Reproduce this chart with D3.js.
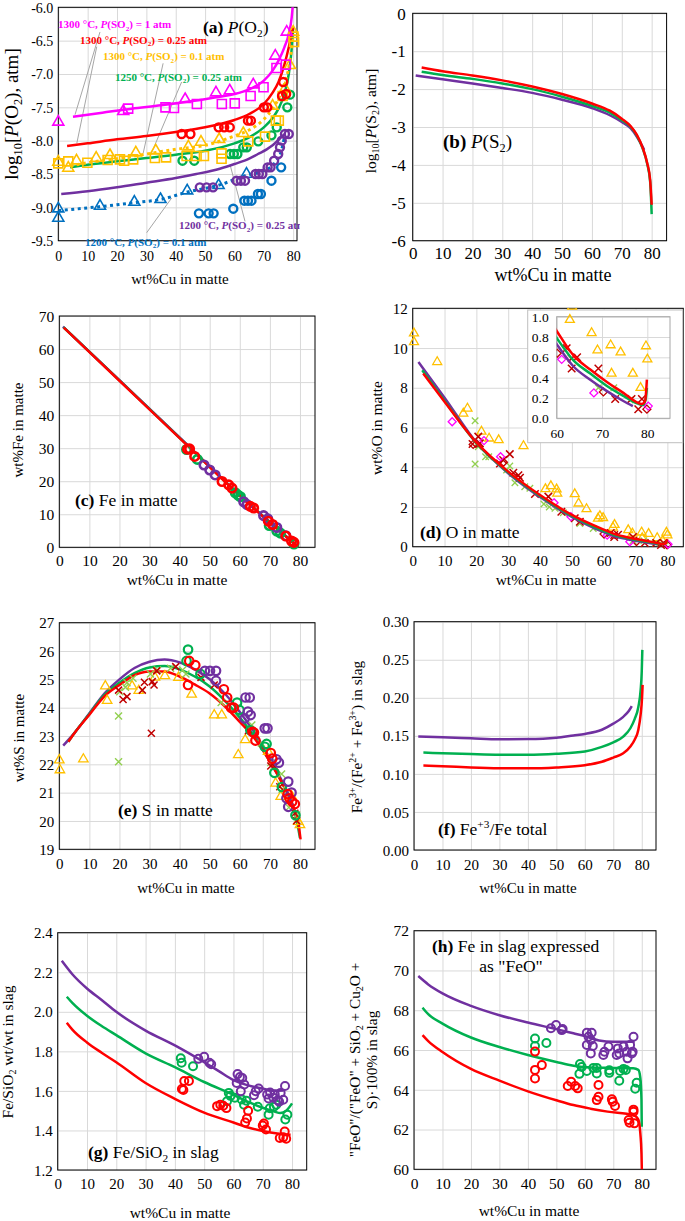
<!DOCTYPE html>
<html><head><meta charset="utf-8">
<script src="https://cdn.jsdelivr.net/npm/d3@7/dist/d3.min.js"></script>
<style>
html,body{margin:0;padding:0;background:#fff}
svg{display:block}
svg text{font-family:"Liberation Serif","Times New Roman",Times,serif;fill:#000;white-space:pre}
</style></head><body>
<svg id="chart" width="685" height="1221"></svg>
<script>
// ---------------- colours ----------------
const C={mag:'#ff00ff',red:'#ff0000',ora:'#ffc000',grn:'#00b050',pur:'#7030a0',blu:'#0070c0',dred:'#c00000',lgrn:'#92d050'};

// ---------------- tick labels ----------------
const xTicks=[0,10,20,30,40,50,60,70,80];
const aYTicks=[-9.5,-9.0,-8.5,-8.0,-7.5,-7.0,-6.5,-6.0];
const bYTicks=[-6,-5,-4,-3,-2,-1,0];
const cYTicks=[0,10,20,30,40,50,60,70];
const dYTicks=[0,2,4,6,8,10,12];
const dInsetXTicks=[60,70,80];
const dInsetYTicks=[0,0.2,0.4,0.6,0.8,1.0];
const eYTicks=[19,20,21,22,23,24,25,26,27];
const fYTicks=[0,0.05,0.10,0.15,0.20,0.25,0.30];
const gYTicks=[1.2,1.4,1.6,1.8,2.0,2.2,2.4];
const hYTicks=[60,62,64,66,68,70,72];

// ---------------- (a) P(O2) ----------------
const aLineMag=[[5,-7.64],[15,-7.58],[25,-7.52],[35,-7.47],[45,-7.41],[55,-7.34],[60,-7.3],[65,-7.23],[70,-7.1],[73,-6.95],[75,-6.8],[77,-6.6],[78.5,-6.4],[79.5,-6.15],[80,-5.9]];
const aLineRed=[[3,-8.08],[10,-8.04],[20,-7.98],[30,-7.93],[40,-7.87],[50,-7.8],[60,-7.69],[65,-7.6],[70,-7.45],[73,-7.28],[75,-7.12],[77,-6.86],[78.5,-6.6],[79.5,-6.38],[80,-6.3]];
const aLineOra=[[4,-8.38],[10,-8.33],[20,-8.27],[30,-8.2],[40,-8.13],[50,-8.07],[60,-7.93],[65,-7.84],[70,-7.68],[73,-7.52],[75,-7.37],[77,-7.15],[78.5,-6.9],[79.5,-6.6],[80,-6.4]];
const aLineGrn=[[4,-8.4],[10,-8.36],[20,-8.31],[30,-8.26],[40,-8.21],[50,-8.15],[60,-8.04],[65,-7.95],[70,-7.8],[73,-7.66],[75,-7.52],[77,-7.3],[78.5,-7.0],[79.5,-6.62],[80,-6.3]];
const aLinePur=[[1,-8.8],[10,-8.76],[20,-8.7],[30,-8.63],[40,-8.56],[47,-8.5],[55,-8.42],[60,-8.35],[65,-8.27],[68,-8.2],[71,-8.13],[73,-8.07],[75,-7.99],[77,-7.9]];
const aLineBlu=[[0,-9.05],[14,-8.99],[26,-8.93],[35,-8.88],[44,-8.77],[54.5,-8.67],[64,-8.52],[70,-8.45],[74,-8.32],[76,-8.15],[77,-7.95]];
const aTriMag=[[0,-7.72],[22.1,-7.56],[43.2,-7.38],[53.7,-7.28],[58.4,-7.25],[66.4,-7.16],[73.9,-6.73],[77.8,-6.37]];
const aSqMag=[[23.8,-7.52],[36.5,-7.5],[39.4,-7.51],[47.2,-7.45],[55.7,-7.45],[60.1,-7.44],[65.5,-7.33],[69.9,-7.2],[74.3,-6.91],[77.5,-6.86]];
const aCircRed=[[42,-7.9],[45,-7.9],[54.6,-7.8],[56.5,-7.8],[58.4,-7.8],[64.6,-7.7],[65.6,-7.7],[70,-7.5],[71.2,-7.5],[76.6,-7.12],[76.2,-7.33],[77.6,-7.3]];
const aTriOra=[[0,-8.32],[3.4,-8.41],[6.2,-8.3],[12.9,-8.26],[17.6,-8.22],[26.4,-8.18],[33.2,-8.15],[44.3,-8.09],[48.6,-8.02],[54.8,-7.98],[63,-7.89],[73,-7.48],[77.2,-7.22],[78.9,-6.87],[80,-6.37]];
const aSqOra=[[0,-8.34],[3.4,-8.31],[9.9,-8.33],[16.8,-8.29],[21,-8.28],[22.4,-8.3],[25.5,-8.28],[32.9,-8.26],[36.7,-8.25],[43.7,-8.23],[47.1,-8.23],[49.6,-8.23],[55.6,-8.19],[55.6,-8.27],[64.7,-8.01],[70.4,-7.94],[74.1,-7.7],[75.1,-7.7],[76.4,-7.33],[80.1,-6.44],[80.3,-6.52]];
const aCircGrn=[[42.3,-8.3],[46.3,-8.3],[58.5,-8.2],[59.8,-8.2],[61,-8.2],[63,-8.1],[64.2,-8.1],[68.1,-8.01],[72.6,-7.92],[74.4,-7.8],[78,-7.5],[78.9,-7.31]];
const aCircPur=[[48.2,-8.7],[50.5,-8.7],[52.7,-8.7],[60.7,-8.6],[62.2,-8.6],[63.6,-8.6],[67.2,-8.5],[68.3,-8.5],[69.5,-8.5],[71.3,-8.4],[72.3,-8.4],[73.5,-8.3],[74.9,-8.2],[75.5,-8.1],[76.1,-8.0],[77.2,-7.9],[78.5,-7.9]];
const aTriBlu=[[0,-9.02],[0,-9.16],[14.2,-8.98],[25.9,-8.92],[34.8,-8.88],[43.9,-8.75],[54.6,-8.67],[64.1,-8.5]];
const aCircBlu=[[47.9,-9.09],[51.2,-9.09],[52.9,-9.09],[59.6,-9.02],[63.4,-8.9],[64.6,-8.9],[65.8,-8.9],[68,-8.8],[69,-8.8],[72.6,-8.6],[75.9,-8.4]];
const aNoteTemp=['1300 °C','1300 °C','1300 °C','1250 °C','1200 °C','1200 °C'];
const aNoteSO2=['1','0.25','0.1','0.25','0.25','0.1'];
const aNoteAt=[[-0.1,-6.315],[7.4,-6.546],[15.2,-6.795],[19.3,-7.1],[41.1,-9.328],[9.1,-9.574]];
const aLeaders=[[[14.2,-6.37],[5.7,-7.61]],[[13.1,-6.59],[6.3,-8.04]],[[35.7,-6.84],[28.9,-8.19]],[[42,-7.12],[31.2,-8.24]],[[63.6,-9.21],[58.5,-8.36]],[[30.1,-9.38],[38.6,-8.86]]];

// ---------------- (b) P(S2) ----------------
const bLineRed=[[3,-1.43],[10,-1.53],[20,-1.64],[30,-1.77],[40,-1.93],[50,-2.13],[60,-2.38],[66,-2.57],[70,-2.78],[73,-2.98],[75,-3.2],[77,-3.55],[78.5,-3.95],[79.5,-4.4],[80,-5.05]];
const bLineGrn=[[3,-1.54],[10,-1.63],[20,-1.73],[30,-1.85],[40,-2.0],[50,-2.2],[60,-2.44],[66,-2.62],[70,-2.82],[73,-3.0],[75,-3.22],[77,-3.57],[78.5,-3.97],[79.5,-4.45],[80,-5.3]];
const bLinePur=[[1,-1.64],[10,-1.74],[20,-1.85],[30,-1.97],[40,-2.1],[50,-2.28],[60,-2.5],[66,-2.69],[70,-2.87],[73,-3.04],[75,-3.25],[77.5,-3.6]];

// ---------------- (c) Fe in matte ----------------
const cLinePur=[[1.2,66.8],[20,50.6],[42,31.5],[60,15.8],[79.5,0.1]];
const cLineGrn=[[1.4,66.6],[20,50.5],[42,31.4],[60,15.7],[79.5,0.1]];
const cLineRed=[[1.5,66.5],[20,50.4],[42,31.3],[60,15.6],[79.5,0]];
const cCircGrn=[[42.3,29.6],[45.9,26.6],[58.5,16.5],[59.4,15.8],[60.2,15.3],[69.8,6.6],[72.3,4.9],[73.5,4.3],[78,1.0]];
const cCircPur=[[48.1,24.9],[50,23.4],[51.8,21.9],[61.3,13.8],[62.4,12.9],[67.9,9.6],[69.3,8.6],[72.3,6.0],[75.3,3.5]];
const cCircRed=[[42.6,29.7],[43.3,29.8],[45,27.5],[54.1,19.9],[56.3,18.9],[57.4,17.9],[63.5,12.4],[64.6,11.9],[69.5,7.9],[70.9,6.9],[75.3,3.4],[77.2,1.9],[78,1.5]];

// ---------------- (d) O in matte ----------------
const dLineRed=[[3.3,8.72],[10,7.3],[20,5.25],[30,3.78],[40,2.6],[50,1.6],[60,0.86],[63.7,0.62],[67.4,0.48],[71,0.36],[74.7,0.25],[77.6,0.16],[78.8,0.14],[79.5,0.17],[79.9,0.38]];
const dLineGrn=[[3,8.88],[10,7.35],[20,5.22],[30,3.74],[40,2.55],[50,1.55],[60,0.79],[63.7,0.57],[67.4,0.44],[71,0.32],[74.7,0.22],[77.6,0.15],[79,0.13],[79.6,0.18],[79.9,0.3]];
const dLinePur=[[1.8,9.3],[10,7.5],[20,5.25],[30,3.7],[40,2.5],[50,1.5],[60,0.73],[63.7,0.51],[67.4,0.38],[71,0.27],[74.7,0.17],[76.8,0.12]];
const dTriOra=[[0.4,10.74],[0.4,10.3],[7.7,9.3],[15.9,6.7],[17.2,6.96],[21.6,5.8],[24,5.45],[27,5.37],[34.8,5.07],[41.7,2.9],[43.4,3.05],[45.2,2.89],[45.4,2.68],[50.9,2.65],[52.1,2.18],[54.6,1.9],[58.2,1.42],[58.8,1.54],[59.8,1.45],[62.9,0.97],[63.4,1.1],[67.7,0.84],[69,0.67],[71.9,0.72],[72.1,0.44],[74.1,0.65],[76.8,0.44],[78.5,0.3],[79.7,0.71],[80,0.58]];
const dXLgrn=[[19.6,6.34],[19.6,4.16],[20.6,5.03],[22.9,4.53],[23.9,4.53],[29.5,3.86],[30.5,4.06],[32.1,3.22],[35.2,3.02],[36.8,2.94],[41.2,2.15],[42.9,2.0],[44.7,1.93],[47.3,1.71],[52.5,1.17],[56.7,0.92],[69.2,0.3],[72.6,0.3],[76.2,0.18]];
const dXDred=[[18.8,5.17],[20.6,5.54],[21.1,5.2],[27.4,4.19],[28.4,4.36],[30.5,4.66],[31.6,3.72],[33.2,3.6],[33.7,3.47],[38.4,2.65],[42.6,2.52],[46.7,1.76],[50.9,1.43],[52.5,1.26],[62.2,0.69],[63.3,0.59],[63.3,0.49],[64.5,0.6],[69.2,0.49],[72.9,0.19],[76.5,0.19],[78.8,0.19],[78,0.09]];
const dDiaDred=[[19,5.15],[28.5,4.25],[60.1,0.64],[70.3,0.26],[79.9,0.09]];
const dDiaMag=[[12.4,6.29],[22.4,5.34],[27.6,4.53],[44.4,2.21],[49.7,1.51],[61.1,0.58],[68.2,0.25],[80.2,0.12]];

// ---------------- (e) S in matte ----------------
const eLinePur=[[1.3,22.66],[5,23.1],[10,23.8],[15,24.5],[20,25.0],[25,25.4],[30,25.62],[35,25.7],[40,25.6],[45,25.35],[50,25.0],[55,24.5],[60,23.85],[65,23.1],[70,22.2],[75,21.2],[77.5,20.6]];
const eLineGrn=[[3,22.8],[5,23.1],[10,23.78],[15,24.45],[20,24.88],[25,25.22],[30,25.42],[35,25.47],[40,25.35],[45,25.1],[50,24.75],[55,24.25],[60,23.65],[65,22.95],[70,22.1],[75,21.15],[78,20.4],[79.5,19.7],[80,19.4]];
const eLineRed=[[3,22.8],[5,23.1],[10,23.75],[15,24.4],[20,24.8],[25,25.15],[30,25.28],[35,25.28],[40,25.1],[45,24.82],[50,24.5],[55,24.05],[60,23.5],[65,22.9],[70,22.1],[75,21.15],[78,20.45],[79.5,19.9],[80.2,19.35]];
const eTriOra=[[0,22.15],[0.2,21.8],[8,22.18],[15.3,24.76],[15.9,24.25],[24.2,24.76],[26.4,24.6],[31.8,25.07],[35.1,25.12],[39.6,25.06],[44,24.47],[51.5,23.74],[54,23.74],[59.5,22.33],[61.8,22.86],[69.4,22.45],[71.9,21.33],[73.6,20.86],[77.2,20.88],[79.4,19.98],[80,19.86]];
const eXLgrn=[[19.7,23.71],[19.7,22.09],[20.1,24.56],[22,24.72],[22.5,24.88],[24.5,25.04],[30.3,25.19],[32.6,25.33],[37,25.39],[41,25.33],[42.1,25.19],[53.8,24.18],[64,23.39],[67.2,22.74],[70.3,22.06],[73.9,21.66],[74.1,21.12],[76.3,20.48],[78.9,20.21]];
const eXDred=[[19.7,24.62],[21.2,24.29],[22.5,24.39],[27.6,24.62],[28.3,24.9],[30.9,24.92],[31.5,24.8],[30.6,23.1],[32.4,25.3],[38.7,25.45],[47.1,25.07],[51.5,24.8],[62.9,23.19],[70.3,21.94],[71.6,21.92],[73.3,21.21],[78.3,20.27],[78.9,20.01]];
const eCircGrn=[[42.8,26.05],[42.3,25.65],[46.9,25.19],[59.1,24.18],[59.9,23.92],[63.5,23.2],[68.3,22.62],[68.9,22.72],[71.5,21.7],[74,21.2],[78.5,20.2]];
const eCircPur=[[48.4,25.3],[50.1,25.3],[52.1,25.3],[52.1,24.95],[61.9,24.36],[63.3,24.36],[62.7,23.86],[63.6,23.74],[61.6,23.62],[68.3,23.27],[69.2,23.27],[72.2,22.18],[73,22.06],[76.1,21.39],[77.2,21.0],[75.5,20.8],[76.1,20.5]];
const eCircRed=[[42.8,24.8],[43.2,25.65],[45.2,25.5],[54.7,24.65],[55.8,24.36],[57.1,24.0],[58,24.0],[64.2,23.15],[64.7,23.12],[65.2,22.84],[70.3,22.4],[70.8,22.2],[75.9,20.95],[77.4,20.68],[78.3,20.6],[76.5,20.8]];

// ---------------- (f) Fe3+/Fe total ----------------
const fLinePur=[[1.5,0.149],[10,0.148],[20,0.1468],[30,0.1456],[40,0.1458],[50,0.1475],[56,0.1505],[60,0.1525],[66,0.158],[70,0.166],[73.5,0.175],[75.5,0.183],[76.5,0.189]];
const fLineGrn=[[3.3,0.128],[10,0.1272],[20,0.126],[30,0.1252],[40,0.1252],[50,0.1265],[60,0.1295],[66,0.1355],[70,0.1415],[73.5,0.149],[76,0.16],[77.5,0.172],[78.8,0.188],[79.6,0.21],[80,0.235],[80.2,0.263]];
const fLineRed=[[3.3,0.111],[10,0.1102],[20,0.1085],[30,0.1075],[40,0.1073],[50,0.1085],[60,0.1115],[66,0.116],[70,0.1215],[73.5,0.127],[76,0.136],[77.5,0.145],[78.8,0.158],[79.6,0.178],[80.1,0.2],[80.3,0.217]];

// ---------------- (g) Fe/SiO2 in slag ----------------
const gLinePur=[[1.4,2.258],[5,2.19],[10,2.118],[15,2.06],[20,2.0],[30,1.905],[40,1.83],[50,1.745],[55,1.7],[60,1.655],[65,1.628],[70,1.612],[74,1.6],[77,1.602]];
const gLineGrn=[[3.1,2.076],[5,2.045],[10,1.98],[15,1.928],[20,1.882],[30,1.79],[40,1.72],[50,1.645],[60,1.58],[65,1.545],[70,1.515],[74,1.495],[76,1.488],[78,1.5],[80,1.537]];
const gLineRed=[[3.1,1.945],[5,1.91],[10,1.845],[15,1.793],[20,1.745],[30,1.64],[40,1.56],[50,1.49],[60,1.44],[65,1.415],[70,1.397],[75,1.384],[79.5,1.378]];
const gCircGrn=[[42,1.765],[42.3,1.742],[46.2,1.725],[57.8,1.548],[58.4,1.59],[59,1.575],[60.5,1.565],[62.8,1.557],[63.6,1.53],[64.4,1.55],[68.3,1.52],[72,1.48],[72.4,1.512],[73.8,1.52],[74.6,1.53],[77.7,1.455],[78.4,1.48]];
const gCircRed=[[42.4,1.61],[42.9,1.605],[43.2,1.65],[44.8,1.65],[54.4,1.523],[55.5,1.53],[56.5,1.525],[57.6,1.513],[64,1.44],[64.6,1.46],[65,1.5],[70,1.425],[70.4,1.435],[71.1,1.405],[75.8,1.362],[77,1.365],[77.5,1.395],[78,1.358]];
const gCircPur=[[48,1.762],[50,1.773],[51.8,1.742],[52.4,1.735],[61.4,1.685],[62.2,1.67],[61.1,1.64],[62.5,1.598],[63,1.665],[63.7,1.632],[67,1.578],[67.6,1.598],[68.6,1.612],[71.5,1.582],[72,1.562],[72.5,1.592],[73.6,1.565],[74.1,1.583],[75.1,1.553],[75.6,1.545],[76.1,1.59],[77,1.555],[77.6,1.625]];

// ---------------- (h) "FeO" in slag ----------------
const hLinePur=[[1.5,69.72],[5,69.3],[10,68.85],[20,68.22],[30,67.75],[40,67.38],[50,67.05],[56,66.84],[60,66.7],[65,66.48],[70,66.42],[77.5,66.42]];
const hLineGrn=[[3,68.13],[5,67.8],[10,67.33],[20,66.63],[30,66.15],[40,65.75],[50,65.4],[56,65.21],[62,65.12],[70,65.1],[77,65.08],[78.8,65.0],[79.5,64.6],[79.9,63.5],[80,62.14]];
const hLineRed=[[3,66.75],[5,66.45],[10,65.9],[20,65.05],[30,64.46],[40,63.92],[50,63.47],[56,63.23],[62,63.05],[68,62.9],[77,62.73],[78.8,62.5],[79.5,61.8],[79.9,60.8],[80.1,59.5]];
const hCircGrn=[[42.5,66.58],[42.5,66.2],[46.5,66.35],[58.3,65.3],[58.9,65.15],[58.1,64.8],[60.7,64.95],[63,65.1],[64.2,65.1],[64.2,64.82],[68.6,64.85],[68.6,64.98],[72.1,64.45],[72.4,64.95],[73.6,65.05],[74.4,65.0],[77.7,64.05],[78.2,64.35]];
const hCircRed=[[42.5,65.92],[42.5,65.0],[42.5,64.57],[44.9,65.24],[54,64.19],[55.2,64.4],[56.6,64.19],[57.5,64.07],[64.2,63.48],[64.8,63.65],[64.8,64.24],[69.5,63.52],[69.8,63.4],[70.6,63.18],[75.4,62.48],[75.7,62.34],[77.1,62.9],[77.1,63.0],[77.4,62.31]];
const hCircPur=[[48.1,67.09],[49.9,67.26],[51.9,67.0],[52.2,67.05],[60.7,66.87],[61.3,66.67],[62.1,66.5],[62.4,66.87],[62.8,66.2],[60.7,66.25],[62.1,65.83],[66.5,65.75],[66.9,65.91],[68.3,66.17],[71.2,65.75],[71.6,66.08],[72.1,65.83],[73.6,66.17],[74.7,65.91],[75,65.58],[75.9,66.25],[76.5,65.83],[76.8,65.91],[77.1,66.67]];

// =====================================================================
const FONT='"Liberation Serif","Times New Roman",Times,serif';
const svg=d3.select('#chart');
const defs=svg.append('defs');
let clipN=0;
function clipRect(x,y,w,h){const id='cl'+(clipN++);defs.append('clipPath').attr('id',id).append('rect').attr('x',x).attr('y',y).attr('width',w).attr('height',h);return `url(#${id})`;}

function rich(t,parts,fs){
  let shift=0;
  parts.forEach(p=>{
    const s=typeof p==='string'?p:p[0], f=typeof p==='string'?'':p[1];
    const sp=t.append('tspan').text(s);
    let target=0;
    if(f.includes('_')) target=fs*0.22;
    if(f.includes('^')) target=-fs*0.38;
    if(target!==shift){sp.attr('dy',target-shift);shift=target;}
    if(f.includes('_')||f.includes('^')) sp.style('font-size',(fs*0.65)+'px');
    if(f.includes('B')) sp.style('font-weight','bold');
    if(f.includes('I')) sp.style('font-style','italic');
  });
}
function label(x,y,parts,fs,opt={}){
  const t=(opt.parent||svg).append('text').attr('x',x).attr('y',y).style('font-size',fs+'px').attr('text-anchor',opt.anchor||'start');
  if(opt.rotate) t.attr('transform',`rotate(-90,${x},${y})`);
  if(opt.color) t.style('fill',opt.color);
  if(opt.bold) t.style('font-weight','bold');
  if(opt.clip) t.attr('clip-path',opt.clip);
  rich(t,parts,fs);
  return t;
}

function makePanel(c){
  const x=d3.scaleLinear().domain(c.xd).range([c.l,c.r]);
  const y=d3.scaleLinear().domain(c.yd).range([c.b,c.t]);
  const g=svg.append('g');
  const gx=g.append('g').attr('transform',`translate(0,${c.b})`)
    .call(d3.axisBottom(x).tickValues(c.xt).tickSize(-(c.b-c.t)).tickFormat(c.xf||(v=>String(v))));
  gx.attr('font-family',null).attr('font-size',null);
  gx.select('.domain').remove();
  gx.selectAll('.tick line').attr('stroke',c.grid||'#d9d9d9').attr('stroke-width',1);
  gx.selectAll('.tick text').attr('y',c.xoff||19).attr('dy',0).style('font-size',c.fs+'px').style('fill','#000');
  const gy=g.append('g').attr('transform',`translate(${c.l},0)`)
    .call(d3.axisLeft(y).tickValues(c.yt).tickSize(-(c.r-c.l)).tickFormat(c.yf||(v=>String(v))));
  gy.attr('font-family',null).attr('font-size',null);
  gy.select('.domain').remove();
  gy.selectAll('.tick line').attr('stroke',c.grid||'#d9d9d9').attr('stroke-width',1);
  gy.selectAll('.tick text').attr('x',-(c.ypad||5)).attr('dy','0.34em').style('font-size',c.fs+'px').style('fill','#000');
  g.append('rect').attr('x',c.l).attr('y',c.t).attr('width',c.r-c.l).attr('height',c.b-c.t)
    .attr('fill','none').attr('stroke',c.border||'#000').attr('stroke-width',1);
  return {g,x,y,clip:clipRect(c.l,c.t,c.r-c.l,c.b-c.t)};
}

function line(p,data,color,opt={}){
  p.g.append('path').datum(data).attr('clip-path',opt.clip||p.clip)
    .attr('fill','none').attr('stroke',color).attr('stroke-width',opt.w||2.5)
    .attr('stroke-linejoin','round').attr('stroke-linecap',opt.cap||'butt')
    .attr('stroke-dasharray',opt.dash||null)
    .attr('d',d3.line().x(d=>p.x(d[0])).y(d=>p.y(d[1])).curve(d3.curveMonotoneX));
}
function shapePath(shape,s){
  const h=s/2;
  if(shape==='circle') return `M${h},0A${h},${h} 0 1,1 ${-h},0A${h},${h} 0 1,1 ${h},0Z`;
  if(shape==='square') return `M${-h},${-h}H${h}V${h}H${-h}Z`;
  if(shape==='tri'){const ht=s*0.866;return `M0,${-ht*2/3}L${h},${ht/3}L${-h},${ht/3}Z`;}
  if(shape==='x') return `M${-h},${-h}L${h},${h}M${-h},${h}L${h},${-h}`;
  if(shape==='dia') return `M0,${-h}L${h},0L0,${h}L${-h},0Z`;
}
function marks(p,data,shape,color,s,sw,opt={}){
  const gg=p.g.append('g');
  if(opt.clip) gg.attr('clip-path',opt.clip);
  gg.selectAll('path').data(data).join('path')
    .attr('transform',d=>`translate(${p.x(d[0])},${p.y(d[1])})`)
    .attr('d',shapePath(shape,s)).attr('fill','none').attr('stroke',color).attr('stroke-width',sw);
}
const fmt1=v=>v.toFixed(1), fmt2=v=>v.toFixed(2);

// ---------------- panel (a) ----------------
const pa=makePanel({l:58.3,r:297,t:7.3,b:240.7,xd:[0,81.3],yd:[-9.5,-6],xt:xTicks,yt:aYTicks,yf:fmt1,fs:14,xoff:20});
const aClip=clipRect(0,0,300,300);
aLeaders.forEach(L=>{
  pa.g.append('line').attr('x1',pa.x(L[0][0])).attr('y1',pa.y(L[0][1])).attr('x2',pa.x(L[1][0])).attr('y2',pa.y(L[1][1]))
    .attr('stroke','#a6a6a6').attr('stroke-width',1);
});
line(pa,aLinePur,C.pur);
line(pa,aLineGrn,C.grn);
line(pa,aLineOra,C.ora,{w:3,dash:'3,3.5'});
line(pa,aLineRed,C.red);
line(pa,aLineMag,C.mag);
line(pa,aLineBlu,C.blu,{w:3,dash:'3,3.5'});
marks(pa,aCircBlu,'circle',C.blu,8,2.4);
marks(pa,aTriBlu,'tri',C.blu,11,1.6);
marks(pa,aCircPur,'circle',C.pur,8,2.4);
marks(pa,aCircGrn,'circle',C.grn,8,2.4);
marks(pa,aSqOra,'square',C.ora,9,1.6);
marks(pa,aTriOra,'tri',C.ora,11,1.6);
marks(pa,aCircRed,'circle',C.red,8,2.4);
marks(pa,aSqMag,'square',C.mag,9,1.6);
marks(pa,aTriMag,'tri',C.mag,11,1.6);
const aNoteCol=[C.mag,C.red,C.ora,C.grn,C.pur,C.blu];
aNoteAt.forEach((at,i)=>{
  label(pa.x(at[0]),pa.y(at[1]),[aNoteTemp[i]+', ',['P','I'],'(SO',['2','_'],') = '+aNoteSO2[i]+' atm'],11,{color:aNoteCol[i],bold:true,clip:aClip});
});
label(203,33,[['(a)','B'],' ',['P','I'],'(O',['2','_'],')'],17.5);
label(18,114,['log',['10','_'],'[',['P','I'],'(O',['2','_'],'), atm]'],19,{rotate:true,anchor:'middle'});
label(180,284,['wt%Cu in matte'],15,{anchor:'middle'});

// ---------------- panel (b) ----------------
const pb=makePanel({l:412.7,r:666.6,t:13.3,b:240.7,xd:[0,85],yd:[-6,0],xt:xTicks,yt:bYTicks,fs:17,xoff:18,ypad:7});
line(pb,bLinePur,C.pur);
line(pb,bLineGrn,C.grn);
line(pb,bLineRed,C.red);
label(443,148,[['(b)','B'],' ',['P','I'],'(S',['2','_'],')'],19);
label(376,121,['log',['10','_'],'[',['P','I'],'(S',['2','_'],'), atm]'],15.5,{rotate:true,anchor:'middle'});
label(553,281,['wt%Cu in matte'],18,{anchor:'middle'});

// ---------------- panel (c) ----------------
const pc=makePanel({l:59.3,r:315,t:316,b:547.3,xd:[0,85],yd:[0,70],xt:xTicks,yt:cYTicks,fs:15.5});
line(pc,cLinePur,C.pur);
line(pc,cLineGrn,C.grn);
line(pc,cLineRed,C.red);
marks(pc,cCircGrn,'circle',C.grn,8.5,2.6);
marks(pc,cCircPur,'circle',C.pur,8.5,2.6);
marks(pc,cCircRed,'circle',C.red,8.5,2.6);
label(75,506,[['(c)','B'],' Fe in matte'],17.5);
label(23,430,['wt%Fe in matte'],15,{rotate:true,anchor:'middle'});
label(177,585,['wt%Cu in matte'],15.5,{anchor:'middle'});

// ---------------- panel (d) ----------------
const pd=makePanel({l:412.7,r:683.3,t:308.3,b:546.7,xd:[0,85],yd:[0,12],xt:xTicks,yt:dYTicks,fs:15});
function dSeries(p,opt){
  marks(p,dTriOra,'tri',C.ora,9,1.3,opt);
  marks(p,dXLgrn,'x',C.lgrn,6.5,1.3,opt);
  marks(p,dXDred,'x',C.dred,7.5,1.5,opt);
  marks(p,dDiaDred,'dia',C.dred,8,1.3,opt);
  marks(p,dDiaMag,'dia',C.mag,8,1.3,opt);
  line(p,dLinePur,C.pur,opt);
  line(p,dLineGrn,C.grn,opt);
  line(p,dLineRed,C.red,opt);
}
dSeries(pd,{});
pd.g.append('rect').attr('x',527.7).attr('y',310).attr('width',155).attr('height',132.7).attr('fill','#fff').attr('stroke','#bfbfbf').attr('stroke-width',1);
const pdi=makePanel({l:556.7,r:670,t:316.7,b:418.3,xd:[60,85],yd:[0,1],xt:dInsetXTicks,yt:dInsetYTicks,yf:fmt1,fs:13.5,xoff:20,ypad:8,border:'#a6a6a6'});
const insetClip=clipRect(556.7,308,118,114);
dSeries(pdi,{clip:insetClip});
label(420,538,[['(d)','B'],' O in matte'],17.5);
label(382,428,['wt%O in matte'],15.5,{rotate:true,anchor:'middle'});
label(546,585,['wt%Cu in matte'],15.5,{anchor:'middle'});

// ---------------- panel (e) ----------------
const pe=makePanel({l:59.3,r:315,t:622.7,b:849.3,xd:[0,85],yd:[19,27],xt:xTicks,yt:eYTicks,fs:15,xoff:20});
line(pe,eLinePur,C.pur);
line(pe,eLineGrn,C.grn);
line(pe,eLineRed,C.red);
marks(pe,eTriOra,'tri',C.ora,9.5,1.3);
marks(pe,eXLgrn,'x',C.lgrn,7,1.4);
marks(pe,eXDred,'x',C.dred,7,1.5);
marks(pe,eCircGrn,'circle',C.grn,8.5,2.2);
marks(pe,eCircPur,'circle',C.pur,8.5,2.2);
marks(pe,eCircRed,'circle',C.red,8.5,2.2);
label(118,816,[['(e)','B'],' S in matte'],17.5);
label(24,738,['wt%S in matte'],15,{rotate:true,anchor:'middle'});
label(186,893,['wt%Cu in matte'],15,{anchor:'middle'});

// ---------------- panel (f) ----------------
const pf=makePanel({l:414,r:656,t:621.7,b:850,xd:[0,85],yd:[0,0.3],xt:xTicks,yt:fYTicks,yf:fmt2,fs:15,xoff:20});
line(pf,fLinePur,C.pur);
line(pf,fLineGrn,C.grn);
line(pf,fLineRed,C.red);
label(438,835,[['(f)','B'],' Fe',['+3','^'],'/Fe total'],17.5);
label(362,737,['Fe',['3+','^'],'/(Fe',['2+','^'],' + Fe',['3+','^'],') in slag'],15.3,{rotate:true,anchor:'middle'});
label(528,893,['wt%Cu in matte'],15,{anchor:'middle'});

// ---------------- panel (g) ----------------
const pg=makePanel({l:57.7,r:306.7,t:932.7,b:1170,xd:[0,85],yd:[1.2,2.4],xt:xTicks,yt:gYTicks,yf:fmt1,fs:15,xoff:19});
line(pg,gLinePur,C.pur);
line(pg,gLineGrn,C.grn);
line(pg,gLineRed,C.red);
marks(pg,gCircGrn,'circle',C.grn,8,2);
marks(pg,gCircRed,'circle',C.red,8,2);
marks(pg,gCircPur,'circle',C.pur,8,2);
label(88,1158,[['(g)','B'],' Fe/SiO',['2','_'],' in slag'],17.5);
label(13,1052,['Fe/SiO',['2','_'],' wt/wt in slag'],15.5,{rotate:true,anchor:'middle'});
label(180,1218,['wt%Cu in matte'],15.5,{anchor:'middle'});

// ---------------- panel (h) ----------------
const ph=makePanel({l:414,r:656,t:930.7,b:1169.3,xd:[0,85],yd:[60,72],xt:xTicks,yt:hYTicks,fs:15.5,xoff:20});
line(ph,hLinePur,C.pur);
line(ph,hLineGrn,C.grn);
line(ph,hLineRed,C.red);
marks(ph,hCircGrn,'circle',C.grn,8,2);
marks(ph,hCircRed,'circle',C.red,8,2);
marks(ph,hCircPur,'circle',C.pur,8,2);
label(432,952,[['(h)','B'],' Fe in slag expressed'],17.5);
label(511,972,['as "FeO"'],17.5,{anchor:'middle'});
label(359.5,1060,['"FeO"/("FeO" + SiO',['2','_'],' + Cu',['2','_'],'O +'],15.3,{rotate:true,anchor:'middle'});
label(376.5,1060,['S)·100% in slag'],15.3,{rotate:true,anchor:'middle'});
label(529,1216,['wt%Cu in matte'],15.5,{anchor:'middle'});

// force serif font everywhere
svg.selectAll('text').style('font-family',FONT);
</script>
</body></html>
